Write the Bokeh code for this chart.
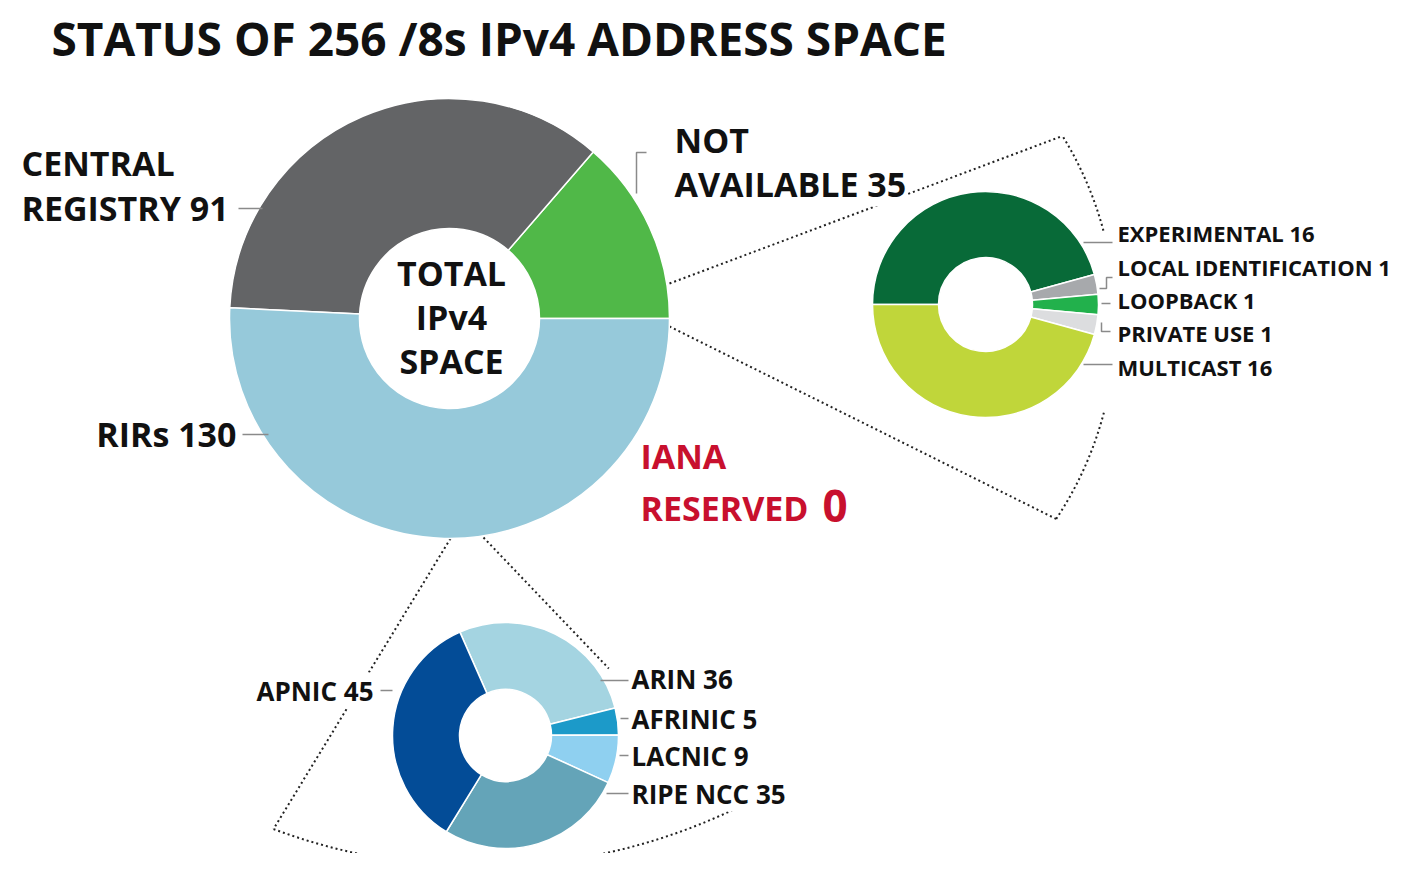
import math
from bokeh.plotting import figure
from bokeh.models import Range1d, Label, ColumnDataSource
from bokeh.embed import file_html
from bokeh.resources import INLINE

# ---------------- data ----------------
title = "STATUS OF 256 /8s IPv4 ADDRESS SPACE"
center_lines = ["TOTAL", "IPv4", "SPACE"]

main_names = ["NOT AVAILABLE", "CENTRAL REGISTRY", "RIRs", "IANA RESERVED"]
main_values = [35, 91, 130, 0]
main_colors = ["#50b848", "#636466", "#96c9da", "#c8102e"]

na_names = ["EXPERIMENTAL", "LOCAL IDENTIFICATION", "LOOPBACK", "PRIVATE USE", "MULTICAST"]
na_values = [16, 1, 1, 1, 16]
na_colors = ["#086a38", "#a7a9ac", "#22b14c", "#dcdddf", "#c0d63a"]

rir_names = ["ARIN", "AFRINIC", "LACNIC", "RIPE NCC", "APNIC"]
rir_values = [36, 5, 9, 35, 45]
rir_colors = ["#a4d4e1", "#1c9ac9", "#8fd0f0", "#64a4b8", "#034c97"]

# ---------------- layout ----------------
FONT = "Open Sans"
PH = 869  # reference page height; y data = PH - pixel_y


def Y(py):
    return PH - py


p = figure(width=1400, height=853, x_range=Range1d(0, 1400), y_range=Range1d(PH - 853, PH),
           output_backend="svg", toolbar_location=None, min_border=0)
p.axis.visible = False
p.grid.visible = False
p.outline_line_color = None
p.background_fill_color = "white"
p.border_fill_color = "white"

MAIN_C, MAIN_RI, MAIN_RO = (449, 318), 90, 220
NA_C, NA_RI, NA_RO = (985, 304), 47, 113
RIR_C, RIR_RI, RIR_RO = (505, 735), 46, 113


def donut(c, r_in, r_out, values, colors, base_deg, clockwise):
    total = sum(values)
    cum = 0
    starts, ends, cols = [], [], []
    for v, col in zip(values, colors):
        a0 = cum / total * 360
        cum += v
        a1 = cum / total * 360
        if v == 0:
            continue
        if clockwise:
            s, e = base_deg - a1, base_deg - a0
        else:
            s, e = base_deg + a0, base_deg + a1
        starts.append(math.radians(s))
        ends.append(math.radians(e))
        cols.append(col)
    src = ColumnDataSource(dict(start=starts, end=ends, color=cols))
    p.annular_wedge(x=c[0], y=Y(c[1]), inner_radius=r_in, outer_radius=r_out,
                    start_angle="start", end_angle="end", fill_color="color",
                    line_color="white", line_width=1.5, source=src)


def arc_pt(c, r, deg):
    return (c[0] + r * math.cos(math.radians(deg)), c[1] - r * math.sin(math.radians(deg)))


# dotted "exploded" connectors (drawn first, under everything)
DOT = dict(line_color="#222222", line_width=2, line_dash="2 3")
# right sector arc (gap where the label block sits)
ARC_C, ARC_R, ARC_A0, ARC_A1 = (760, 322), 355, -33.6, 31.7
for a0, a1 in [(15.0, ARC_A1), (ARC_A0, -14.4)]:
    p.arc(x=ARC_C[0], y=Y(ARC_C[1]), radius=ARC_R, start_angle=math.radians(a0),
          end_angle=math.radians(a1), **DOT)
top_end = arc_pt(ARC_C, ARC_R, ARC_A1)
bot_end = arc_pt(ARC_C, ARC_R, ARC_A0)
p.line(x=[669, top_end[0]], y=[Y(283), Y(top_end[1])], **DOT)
p.line(x=[669, bot_end[0]], y=[Y(326), Y(bot_end[1])], **DOT)
# bottom sector arc
BARC_C, BARC_R, BARC_A0, BARC_A1 = (480, 275), 591, -110.5, -63.9
p.arc(x=BARC_C[0], y=Y(BARC_C[1]), radius=BARC_R, start_angle=math.radians(BARC_A0),
      end_angle=math.radians(BARC_A1), **DOT)
l_end = arc_pt(BARC_C, BARC_R, BARC_A0)
r_end = arc_pt(BARC_C, BARC_R, BARC_A1)
p.line(x=[450, l_end[0]], y=[Y(538), Y(l_end[1])], **DOT)
# right bottom line: visible only until it meets the label block
t = (668 - 537) / (r_end[1] - 537)
p.line(x=[483, 483 + t * (r_end[0] - 483)], y=[Y(537), Y(668)], **DOT)

# donuts
donut(MAIN_C, MAIN_RI, MAIN_RO, main_values, main_colors, 0, False)
donut(NA_C, NA_RI, NA_RO, na_values, na_colors, 180, True)
donut(RIR_C, RIR_RI, RIR_RO, rir_values, rir_colors, 113.8, True)

# leader lines
leaders = [
    [(238, 208), (262, 208)],
    [(242, 434), (268, 434)],
    [(646, 152), (636, 152), (636, 193)],
    [(1083, 242), (1112, 242)],
    [(1099, 288), (1106, 288), (1106, 277), (1112, 277)],
    [(1101, 303), (1110, 303)],
    [(1101, 322), (1101, 331), (1110, 331)],
    [(1083, 364), (1112, 364)],
    [(600, 680), (628, 680)],
    [(620, 718), (628, 718)],
    [(619, 755), (628, 755)],
    [(606, 793), (628, 793)],
    [(380, 690), (392, 690)],
]
p.multi_line(xs=[[pt[0] for pt in l] for l in leaders],
             ys=[[Y(pt[1]) for pt in l] for l in leaders],
             line_color="#8a8a8a", line_width=1.5)


def label(x, py, text, size, align="left", color="#111111"):
    p.add_layout(Label(x=x, y=Y(py), text=text, text_font=FONT, text_font_style="bold",
                       text_font_size=f"{size}px", text_align=align, text_baseline="middle",
                       text_color=color, background_fill_color="white"))


# title
label(51, 37, title, 46)

# center text
for t_, py in zip(center_lines, [272, 316, 360]):
    label(451, py, t_, 34, "center")

# main labels
nm = dict(zip(main_names, main_values))
label(21, 162, "CENTRAL", 34)
label(21, 207, f"REGISTRY {nm['CENTRAL REGISTRY']}", 34)
label(674, 139, "NOT", 34)
label(674, 183, f"AVAILABLE {nm['NOT AVAILABLE']}", 34)
label(236, 433, f"RIRs {nm['RIRs']}", 34, "right")
RED = main_colors[3]
label(640, 455, "IANA", 34, color=RED)
label(640, 507, "RESERVED", 34, color=RED)
label(822, 505, f"{nm['IANA RESERVED']}", 44, color=RED)

# not available breakdown labels
for n, v, py in zip(na_names, na_values, [232, 266, 299, 332, 366]):
    label(1117, py, f"{n} {v}", 22)

# RIR labels
rir_pos = {"ARIN": 678, "AFRINIC": 718, "LACNIC": 755, "RIPE NCC": 793}
for n, v in zip(rir_names, rir_values):
    if n == "APNIC":
        label(373, 690, f"{n} {v}", 26, "right")
    else:
        label(631, rir_pos[n], f"{n} {v}", 26)

open("out.html", "w").write(file_html(p, INLINE))
